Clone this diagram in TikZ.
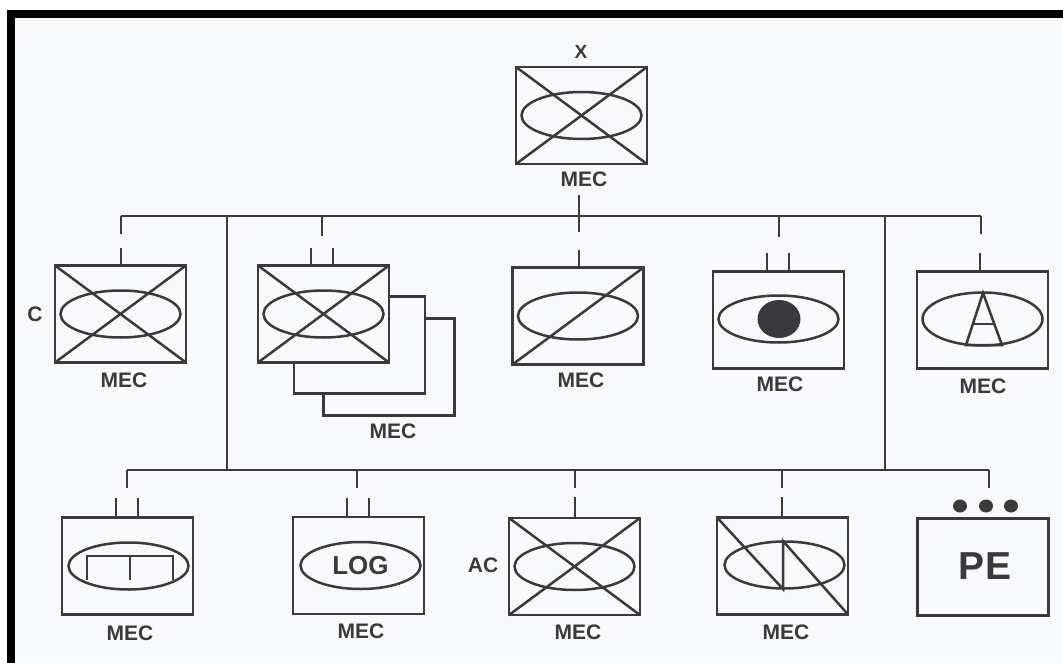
\documentclass[tikz,border=0pt]{standalone}
\usepackage{fontspec}
\setmainfont{Liberation Sans}
\definecolor{inkgrey}{HTML}{3A3A3C}
\definecolor{paper}{HTML}{F8F9FB}
\tikzset{
  unitbox/.style={draw=inkgrey,line width=2.7pt,fill=paper,minimum width=131pt,minimum height=97pt,inner sep=0pt,outer sep=0pt},
  unitoval/.style={draw=inkgrey,line width=2.5pt,ellipse,minimum width=120pt,minimum height=47pt,inner sep=0pt,outer sep=0pt},
  linkline/.style={draw=inkgrey,line width=2.5pt},
  unitlabel/.style={text=inkgrey,font=\fontsize{21}{21}\selectfont\bfseries,inner sep=0pt}
}
\usetikzlibrary{shapes.geometric}
\begin{document}
\begin{tikzpicture}[x=1pt,y=-1pt]
  \useasboundingbox (0,0) rectangle (1063,663);
  \fill[white] (0,0) rectangle (1063,663);
  \fill[paper] (15,18) rectangle (1063,663);
  \fill[black] (7,10) rectangle (1063,18);
  \fill[black] (7,10) rectangle (15,663);

  % Hoofd
  \node[unitbox] (hq) at (581.5,115.5) {};
  \node[unitoval] (hqoval) at (hq) {};
  \draw[linkline] (hq.north west) -- (hq.south east);
  \draw[linkline] (hq.south west) -- (hq.north east);
  \node[unitlabel,font=\fontsize{19}{19}\selectfont\bfseries] (hqname) at (581,52) {X};
  \node[unitlabel] (hqmec) at (584,179) {MEC};

  % Bus boven
  \coordinate (hqstem) at (579,195);
  \coordinate (topleft) at (121,216);
  \coordinate (topright) at (981,216);
  \coordinate (leftjoin) at (227,216);
  \coordinate (rightjoin) at (885,216);
  \coordinate (lowleft) at (127,470);
  \coordinate (lowright) at (989,470);
  \draw[linkline] (topleft) -- (topright);
  \draw[linkline] (lowleft) -- (lowright);
  \draw[linkline] (leftjoin) -- (leftjoin |- lowleft);
  \draw[linkline] (rightjoin) -- (rightjoin |- lowleft);
  \foreach \name/\x/\yend in {a/121/234,b/322/236,c/579/232,d/779/237,e/981/234} {
    \coordinate (topbus\name) at (\x,216);
    \coordinate (topend\name) at (\x,\yend);
    \draw[linkline] (topbus\name) -- (topend\name);
  }
  \draw[linkline] (hqstem) -- (topbusc);
  \foreach \name/\x in {a/127,b/357,c/575,d/782,e/989} {
    \coordinate (lowbus\name) at (\x,470);
    \coordinate (lowend\name) at (\x,488);
    \draw[linkline] (lowbus\name) -- (lowend\name);
  }

  % Rij 1
  \node[unitbox] (coy) at (120.5,314) {};
  \node[unitoval] (coyoval) at (coy) {};
  \draw[linkline] (coy.north west) -- (coy.south east);
  \draw[linkline] (coy.south west) -- (coy.north east);
  \node[unitlabel] (coyname) at (35,314) {C};
  \node[unitlabel] (coymec) at (124,380) {MEC};

  \node[unitbox] (backtwo) at (389,367) {};
  \node[unitbox] (backone) at (359.5,345) {};
  \node[unitbox] (stack) at (323.5,314) {};
  \node[unitoval] (stackoval) at (stack) {};
  \draw[linkline] (stack.north west) -- (stack.south east);
  \draw[linkline] (stack.south west) -- (stack.north east);
  \node[unitlabel] (stackmec) at (393,431) {MEC};

  \node[unitbox] (slash) at (578,316) {};
  \node[unitoval] (slashoval) at (slash) {};
  \draw[linkline] (slash.south west) -- (slash.north east);
  \node[unitlabel] (slashmec) at (581,380) {MEC};

  \node[unitbox] (eye) at (778.5,320) {};
  \node[unitoval] (eyeoval) at (778.5,319) {};
  \node[fill=inkgrey,ellipse,minimum width=43pt,minimum height=38pt,inner sep=0pt] (eyedot) at (779,319) {};
  \node[unitlabel] (eyemec) at (780,384) {MEC};

  \node[unitbox] (alpha) at (982.5,320) {};
  \node[unitoval,minimum height=53pt] (alphaoval) at (982.5,319) {};
  \coordinate (alphatop) at (983,293);
  \coordinate (alphaleft) at (966,345);
  \coordinate (alpharight) at (1002,345);
  \coordinate (alphabarl) at (973,324);
  \coordinate (alphabarr) at (994,324);
  \draw[linkline] (alphaleft) -- (alphatop) -- (alpharight) -- cycle;
  \draw[linkline] (alphabarl) -- (alphabarr);
  \node[unitlabel] (alphamec) at (983,386) {MEC};

  % Rij 2
  \node[unitbox] (tracks) at (127.5,566) {};
  \node[unitoval] (tracksoval) at (128.5,566) {};
  \coordinate (trackl) at (87,580);
  \coordinate (trackr) at (173,580);
  \coordinate (trackm) at (130,580);
  \coordinate (tracktop) at (130,556);
  \draw[linkline] (trackl) -- (trackl |- tracktop) -- (trackr |- tracktop) -- (trackr);
  \draw[linkline] (tracktop) -- (trackm);
  \node[unitlabel] (tracksmec) at (130,633) {MEC};

  \node[unitbox] (logbox) at (358.5,565.5) {};
  \node[unitoval,text=inkgrey,font=\fontsize{26}{26}\selectfont\bfseries] (logoval) at (360.5,565.5) {LOG};
  \node[unitlabel] (logmec) at (361,631) {MEC};

  \node[unitbox] (ac) at (574.5,566.5) {};
  \node[unitoval] (acoval) at (ac) {};
  \draw[linkline] (ac.north west) -- (ac.south east);
  \draw[linkline] (ac.south west) -- (ac.north east);
  \node[unitlabel] (acname) at (483,565) {AC};
  \node[unitlabel] (acmec) at (578,632) {MEC};

  \node[unitbox] (split) at (782.5,566) {};
  \node[unitoval] (splitoval) at (784.5,565) {};
  \coordinate (splitlow) at (783,589);
  \coordinate (splittop) at (783,541);
  \draw[linkline] (split.north west) -- (splitlow) -- (splittop) -- (split.south east);
  \node[unitlabel] (splitmec) at (786,632) {MEC};

  \node[unitbox] (pe) at (983,567) {};
  \node[text=inkgrey,font=\fontsize{39}{39}\selectfont\bfseries,inner sep=0pt] (pename) at (985,566) {PE};
  \foreach \x in {960,986,1011} {
    \fill[inkgrey] (\x,506) ellipse (7pt and 6.5pt);
  }

  % Streepjes op de kast
  \foreach \name/\x/\ytop/\target in {a/121/248/coy,b/311/248/stack,c/333/248/stack,d/579/250/slash,e/767/253/eye,f/789/253/eye,g/980/253/alpha,h/116/498/tracks,i/138/498/tracks,j/347/498/logbox,k/369/498/logbox,l/575/497/ac,m/782/497/split} {
    \coordinate (tick\name) at (\x,\ytop);
    \draw[linkline] (tick\name) -- (tick\name |- \target.north);
  }
\end{tikzpicture}
\end{document}
